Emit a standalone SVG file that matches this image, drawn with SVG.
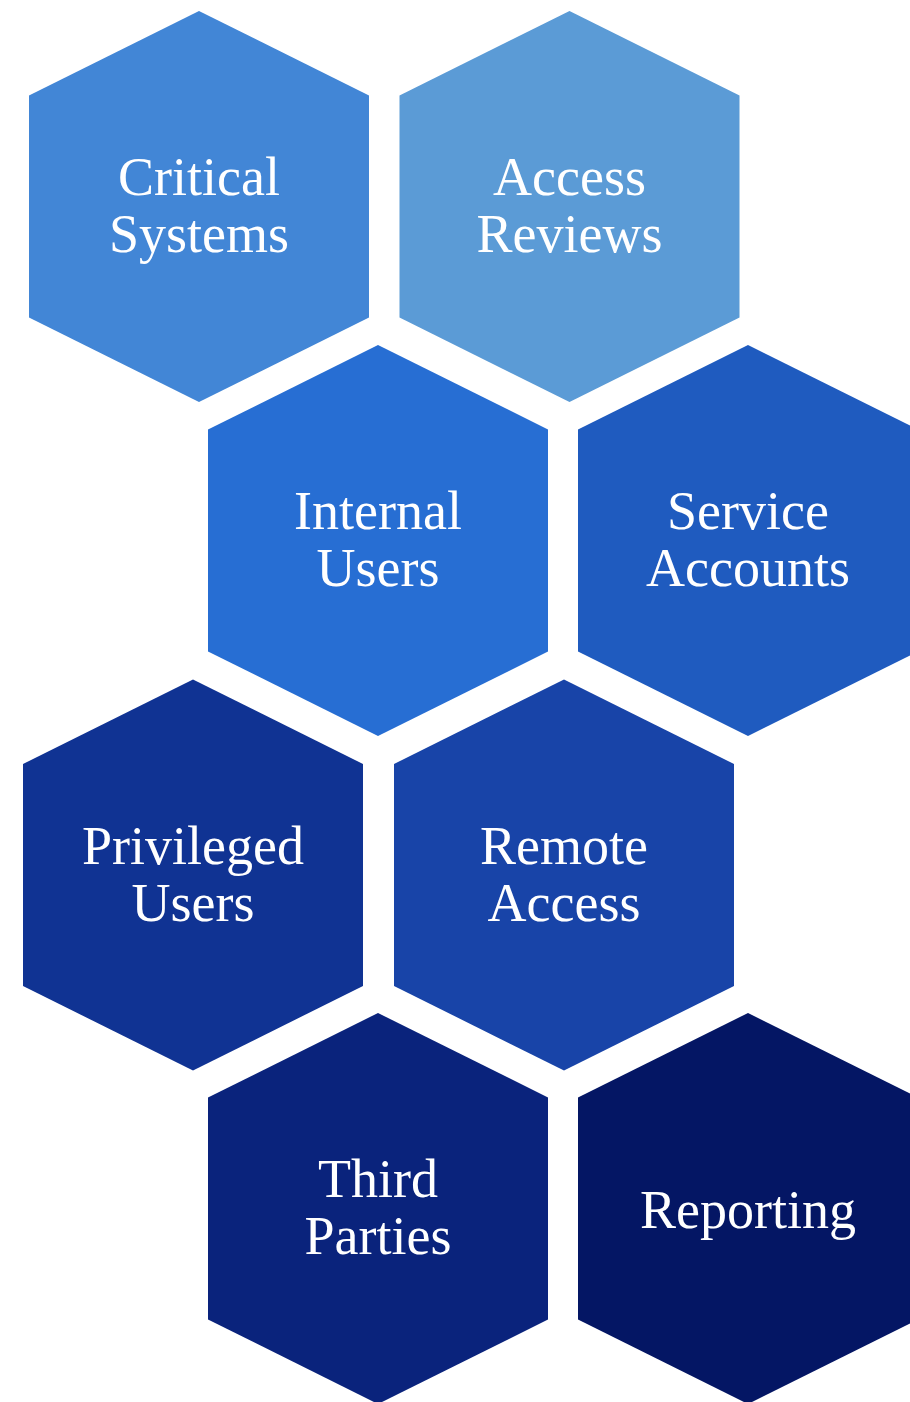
<svg xmlns="http://www.w3.org/2000/svg" width="910" height="1402" viewBox="0 0 910 1402">
<style>
.lbl{font-family:"Liberation Serif","DejaVu Serif",serif;font-size:54px;fill:#ffffff;text-anchor:middle}
</style>
<defs>
<polygon id="hex" points="0,-195.5 170,-111 170,111 0,195.5 -170,111 -170,-111"/>
</defs>
<rect width="910" height="1402" fill="#ffffff"/>
<g id="connectors"></g>
<g id="n1" transform="translate(199,206.5)"><use href="#hex" fill="#4286d6"/><text class="lbl" y="-11.5">Critical</text><text class="lbl" y="45.5">Systems</text></g>
<g id="n2" transform="translate(569.5,206.5)"><use href="#hex" fill="#5b9bd6"/><text class="lbl" y="-11.5">Access</text><text class="lbl" y="45.5">Reviews</text></g>
<g id="n3" transform="translate(378,540.5)"><use href="#hex" fill="#276ed3"/><text class="lbl" y="-11.5">Internal</text><text class="lbl" y="45.5">Users</text></g>
<g id="n4" transform="translate(748,540.5)"><use href="#hex" fill="#1f5bbf"/><text class="lbl" y="-11.5">Service</text><text class="lbl" y="45.5">Accounts</text></g>
<g id="n5" transform="translate(193,875)"><use href="#hex" fill="#103393"/><text class="lbl" y="-11.5">Privileged</text><text class="lbl" y="45.5">Users</text></g>
<g id="n6" transform="translate(564,875)"><use href="#hex" fill="#1844a8"/><text class="lbl" y="-11.5">Remote</text><text class="lbl" y="45.5">Access</text></g>
<g id="n7" transform="translate(378,1208.5)"><use href="#hex" fill="#0a237c"/><text class="lbl" y="-11.5">Third</text><text class="lbl" y="45.5">Parties</text></g>
<g id="n8" transform="translate(748,1208.5)"><use href="#hex" fill="#041664"/><text class="lbl" y="19.5">Reporting</text></g>
</svg>
